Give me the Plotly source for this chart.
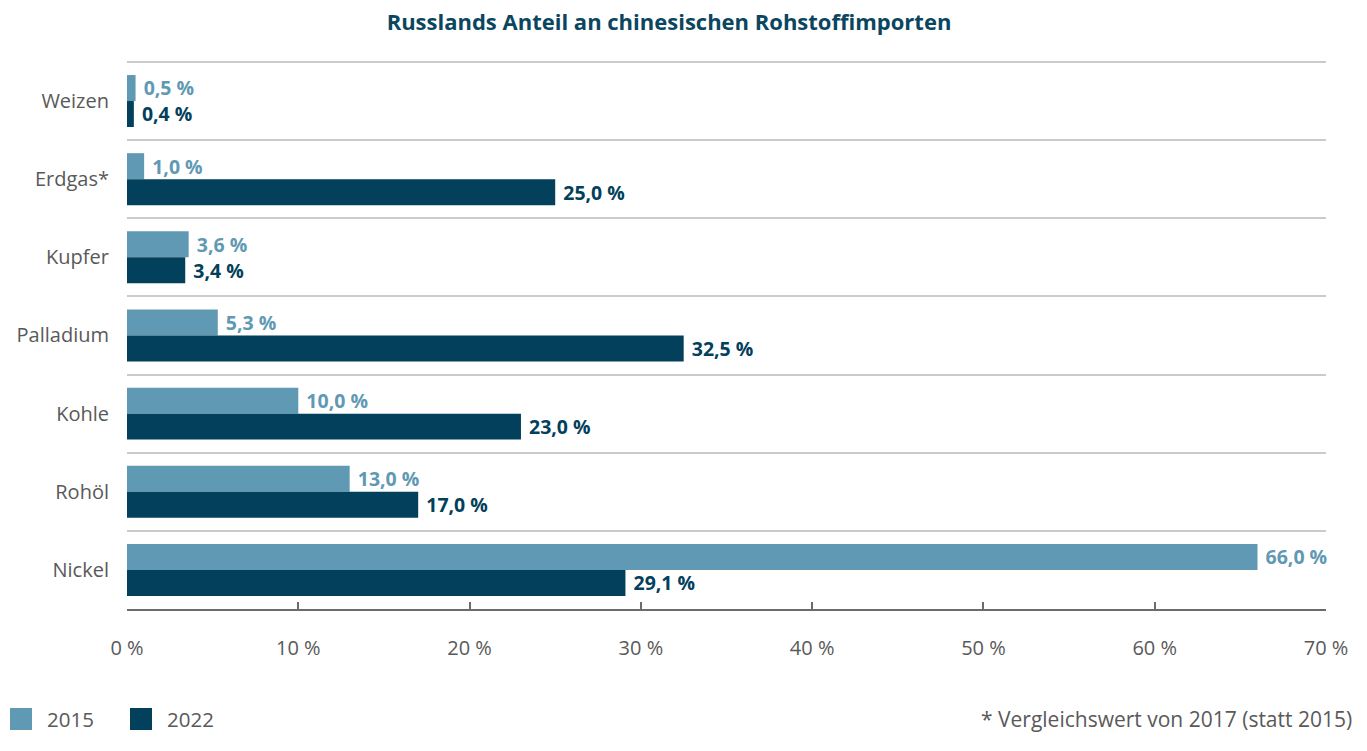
import plotly.graph_objects as go

categories = ["Weizen", "Erdgas*", "Kupfer", "Palladium", "Kohle", "Rohöl", "Nickel"]
values_2015 = [0.5, 1.0, 3.6, 5.3, 10.0, 13.0, 66.0]
values_2022 = [0.4, 25.0, 3.4, 32.5, 23.0, 17.0, 29.1]
series_names = ["2015", "2022"]
x_ticks = [0, 10, 20, 30, 40, 50, 60, 70]
x_ticklabels = [f"{v} %" for v in x_ticks]

COLORS = ["#6099b3", "#02405b"]
GRAY = "#595959"
FONT = "Open Sans"

W, H = 1367, 751
ML, MR, MT, MB = 127, 41, 60, 142
PW, PH = W - ML - MR, H - MT - MB


def px_to_paper_x(px):
    return (px - ML) / PW


def px_to_paper_y(py):
    return (H - MB - py) / PH


fig = go.Figure()
for name, vals, col in zip(series_names, [values_2015, values_2022], COLORS):
    fig.add_trace(go.Bar(
        y=categories, x=vals, name=name, orientation="h",
        marker=dict(color=col, line=dict(width=0)),
        texttemplate="\u00a0%{x:.1f} %", textposition="outside", cliponaxis=False,
        textfont=dict(family=FONT, size=21, color=col, weight="bold"),
        hoverinfo="skip", showlegend=False,
    ))

# legend drawn as swatches + labels (layout decoration)
shapes = []
annotations = []
legend_x0 = [10, 130]
for i, (name, col) in enumerate(zip(series_names, COLORS)):
    x0 = legend_x0[i]
    shapes.append(dict(
        type="rect", xref="paper", yref="paper",
        x0=px_to_paper_x(x0), x1=px_to_paper_x(x0 + 22),
        y0=px_to_paper_y(730), y1=px_to_paper_y(708),
        fillcolor=col, line=dict(width=0),
    ))
    annotations.append(dict(
        text=name, xref="paper", yref="paper",
        x=px_to_paper_x(x0 + 35), y=px_to_paper_y(719),
        xanchor="left", yanchor="middle", showarrow=False,
        font=dict(family=FONT, size=20.5, color=GRAY),
    ))

annotations.append(dict(
    text="* Vergleichswert von 2017 (statt 2015)",
    xref="paper", yref="paper", x=px_to_paper_x(1354), y=px_to_paper_y(719),
    xanchor="right", yanchor="middle",
    showarrow=False, font=dict(family=FONT, size=21, color=GRAY),
))

fig.update_layout(
    width=W, height=H,
    margin=dict(l=ML, r=MR, t=MT, b=MB, autoexpand=False),
    paper_bgcolor="white", plot_bgcolor="white",
    separators=", ",
    barmode="group", bargap=0.335, bargroupgap=0,
    font=dict(family=FONT, color=GRAY),
    showlegend=False,
    title=dict(
        text="<b>Russlands Anteil an chinesischen Rohstoffimporten</b>",
        x=669 / W, xanchor="center", xref="container",
        y=1 - 22 / H, yanchor="middle", yref="container",
        font=dict(family=FONT, size=22, color="#0b4660"),
    ),
    xaxis=dict(
        range=[0, 70], tickvals=x_ticks, ticktext=x_ticklabels,
        showgrid=False, zeroline=False,
        showline=True, linecolor="#6b6b6b", linewidth=2,
        ticks="inside", ticklen=7, tickwidth=2, tickcolor="#6b6b6b",
        tickfont=dict(family=FONT, size=20, color=GRAY),
        ticklabelstandoff=20, fixedrange=True,
    ),
    yaxis=dict(
        type="category", categoryorder="array", categoryarray=categories,
        range=[len(categories) - 0.5, -0.525], tickson="boundaries",
        showgrid=True, gridcolor="#cbcbcb", gridwidth=1.5,
        ticks="", showline=False, zeroline=False,
        tickfont=dict(family=FONT, size=20, color=GRAY),
        ticklabelstandoff=17, fixedrange=True,
    ),
    shapes=shapes,
    annotations=annotations,
)

fig.write_html("out.html", config={"displayModeBar": False})

with open("out.html", "r", encoding="utf-8") as f:
    html = f.read()
html = html.replace("<head>", "<head><style>html,body{margin:0;padding:0;overflow:hidden;}</style>", 1)
with open("out.html", "w", encoding="utf-8") as f:
    f.write(html)
